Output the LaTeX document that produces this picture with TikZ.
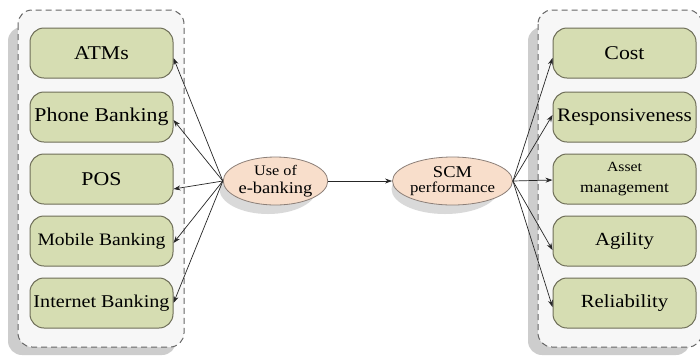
\documentclass[tikz,border=0pt]{standalone}
\usepackage{fontspec}
\setmainfont{Liberation Serif}[FakeStretch=1.12]
\usetikzlibrary{arrows.meta,shapes.geometric}

\definecolor{boxfill}{HTML}{D6DDB2}
\definecolor{boxline}{HTML}{6E6E58}
\definecolor{elfill}{HTML}{F8DECB}
\definecolor{elline}{HTML}{8C7F78}
\definecolor{contfill}{HTML}{F7F7F7}
\definecolor{shadowc}{HTML}{CDCDCD}

\newcommand{\fs}[1]{\fontsize{#1}{#1}\selectfont}

\begin{document}
\begin{tikzpicture}[x=1pt,y=-1pt,
  item/.style={draw=boxline, line width=1pt, fill=boxfill, rounded corners=14pt,
    minimum width=143pt, minimum height=50pt, inner sep=0pt, align=center},
  oval/.style={ellipse, draw=elline, fill=elfill, line width=0.8pt, inner sep=0pt, align=center},
  ovalshadow/.style={ellipse, fill=gray!30, draw=none, inner sep=0pt},
  link/.style={draw=black!85, line width=0.7pt, -{Stealth[length=7pt,width=5pt]}},
  cont/.style={draw=black!60, dash pattern=on 6pt off 4pt, line width=1pt, rounded corners=14pt, fill=contfill},
  contshadow/.style={fill=shadowc, draw=none, rounded corners=14pt}]

\useasboundingbox (0,0) rectangle (700,360);
\fill[white] (0,0) rectangle (700,360);

% containers
\path[contshadow] (8,27) rectangle (176,355);
\path[cont] (18,10) rectangle (184,347);
\path[contshadow] (528,27) rectangle (690,355);
\path[cont] (538,10) rectangle (702,347);

% left boxes
\node[item] (atm) at (101.5,53) {\fs{19.5}ATMs};
\node[item] (phone) at (101.5,117) {\fs{19.5}Phone Banking};
\node[item] (pos) at (101.5,179) {\fs{19.5}POS};
\node[item] (mobile) at (101.5,241) {\fs{17.5}Mobile Banking};
\node[item] (internet) at (101.5,303) {\fs{18}Internet Banking};

% right boxes
\node[item] (cost) at (624.5,53) {\fs{19.5}Cost};
\node[item] (resp) at (624.5,117) {\fs{19}Responsiveness};
\node[item] (asset) at (624.5,179) {\fs{14}Asset\\[9pt]\fs{15.5}management};
\node[item] (agility) at (624.5,241) {\fs{18.5}Agility};
\node[item] (reliab) at (624.5,303) {\fs{18.5}Reliability};

% ellipses
\node[ovalshadow, minimum width=97pt, minimum height=50pt] (ebs) at (268,189) {};
\node[oval, minimum width=95pt, minimum height=48pt] (eb) at (275.5,181)
  {\fs{14.5}Use of\\[6pt]\fs{16.5}e-banking};
\node[ovalshadow, minimum width=107pt, minimum height=50pt] (scms) at (445,189) {};
\node[oval, minimum width=105pt, minimum height=48pt] (scm) at (452.5,181)
  {\fs{16.5}SCM\\[3pt]\fs{15}performance};

% connectors
\draw[link] (eb.west) -- ([yshift=-5pt]atm.east);
\draw[link] (eb.west) -- ([yshift=-3pt]phone.east);
\draw[link] (eb.west) -- ([yshift=-10pt]pos.east);
\draw[link] (eb.west) -- ([yshift=-2pt]mobile.east);
\draw[link] (eb.west) -- (internet.east);
\draw[link] (eb.east) -- (scm.west);
\draw[link] (scm.east) -- ([yshift=-5pt]cost.west);
\draw[link] (scm.east) -- ([yshift=2pt]resp.west);
\draw[link] (scm.east) -- ([yshift=-1pt]asset.west);
\draw[link] (scm.east) -- ([yshift=-9pt]agility.west);
\draw[link] (scm.east) -- ([yshift=-4pt]reliab.west);
\end{tikzpicture}
\end{document}
